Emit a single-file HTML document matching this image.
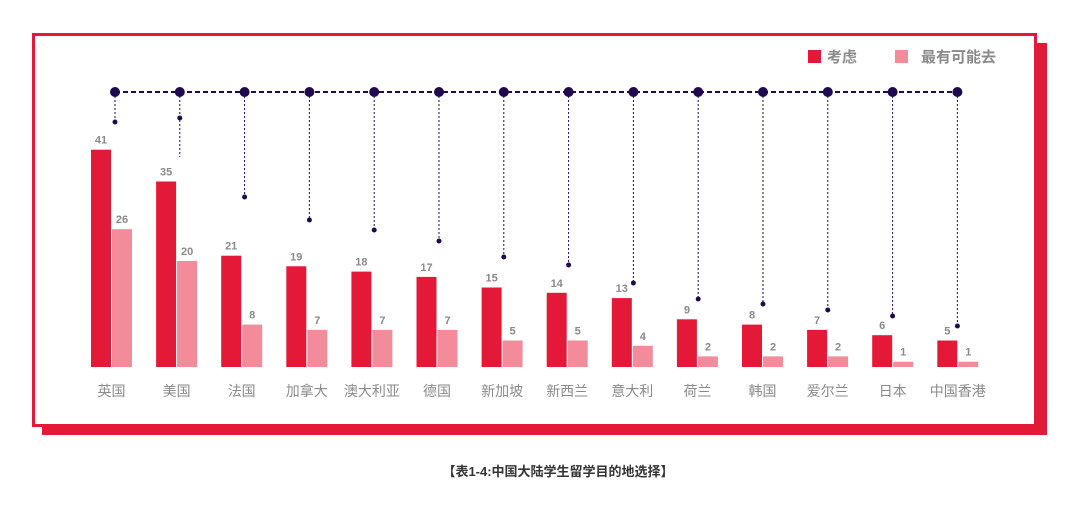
<!DOCTYPE html>
<html><head><meta charset="utf-8"><style>
html,body{margin:0;padding:0;background:#fff;}
svg text{font-family:"Liberation Sans","Noto Sans CJK SC",sans-serif;}
</style></head><body>
<svg id="chart" width="1080" height="513" viewBox="0 0 1080 513" xmlns="http://www.w3.org/2000/svg">
  <rect x="42" y="43" width="1005" height="392" fill="#e31937"/>
  <rect x="33.5" y="34.5" width="1002" height="391" fill="#fff" stroke="#e31937" stroke-width="3"/>
  <g>
    <rect x="808" y="50" width="13" height="13" fill="#e31937"/>
    <text x="827" y="62" font-size="15" font-weight="bold" fill="#8a8a8a">考虑</text>
    <rect x="895" y="50" width="13" height="13" fill="#f28b9a"/>
    <text x="921" y="62" font-size="15" font-weight="bold" fill="#8a8a8a">最有可能去</text>
  </g>
  <line x1="115" y1="92" x2="957" y2="92" stroke="#1f0a4f" stroke-width="2" stroke-dasharray="5,3"/>
  <g id="marks"></g>
  <text x="558" y="476" font-size="13" font-weight="bold" fill="#333" text-anchor="middle">【表1-4:中国大陆学生留学目的地选择】</text>
</svg>
<script>
const categories = ["英国","美国","法国","加拿大","澳大利亚","德国","新加坡","新西兰","意大利","荷兰","韩国","爱尔兰","日本","中国香港"];
const considerValues = [41,35,21,19,18,17,15,14,13,9,8,7,6,5];
const likelyValues = [26,20,8,7,7,7,5,5,4,2,2,2,1,1];
const connectorEnds = [122,118,197,220,230,241,257,265,283,299,304,310,316,326];

const NS = "http://www.w3.org/2000/svg";
const g = document.getElementById("marks");
const baseY = 367, scale = 5.3;
function xCenter(i){ return 111.5 + i * 65.1; }
function xDot(i){ return 115 + i * 64.8; }
function yVal(v){ return baseY - v * scale; }
function mk(tag, attrs){ const e = document.createElementNS(NS, tag); for (const k in attrs) e.setAttribute(k, attrs[k]); g.appendChild(e); return e; }

categories.forEach((c, i) => {
  const cx = xCenter(i);
  const dx = xDot(i);
  const endY = connectorEnds[i];
  const ln = mk("line", {x1: dx, y1: 92, x2: dx, y2: i === 1 ? 157 : endY, stroke: "#1f0a4f", "stroke-width": 1, "stroke-dasharray": "2,2"});
  
  
  const big = mk("circle", {cx: dx, cy: 92, r: 5, fill: "#1f0a4f"});
  
  
  const sm = mk("circle", {cx: dx, cy: endY, r: 2.5, fill: "#1f0a4f"});
  
  

  const v1 = considerValues[i], v2 = likelyValues[i];
  const b1 = mk("rect", {x: cx - 20.5, y: yVal(v1), width: 20, height: baseY - yVal(v1), fill: "#e31937"});
  
  
  const b2 = mk("rect", {x: cx + 0.5, y: yVal(v2), width: 20, height: baseY - yVal(v2), fill: "#f28b9a"});
  
  
  const t1 = mk("text", {x: cx - 10.5, y: yVal(v1) - 6, "font-size": 11, "font-weight": "bold", fill: "#8a8a8a", "text-anchor": "middle"});
  t1.textContent = v1;
  
  
  const t2 = mk("text", {x: cx + 10.5, y: yVal(v2) - 6, "font-size": 11, "font-weight": "bold", fill: "#8a8a8a", "text-anchor": "middle"});
  t2.textContent = v2;
  
  
  const lab = mk("text", {x: cx, y: 396, "font-size": 14, fill: "#8a8a8a", "text-anchor": "middle"});
  lab.textContent = c;
  
  
});
</script>
</body></html>
